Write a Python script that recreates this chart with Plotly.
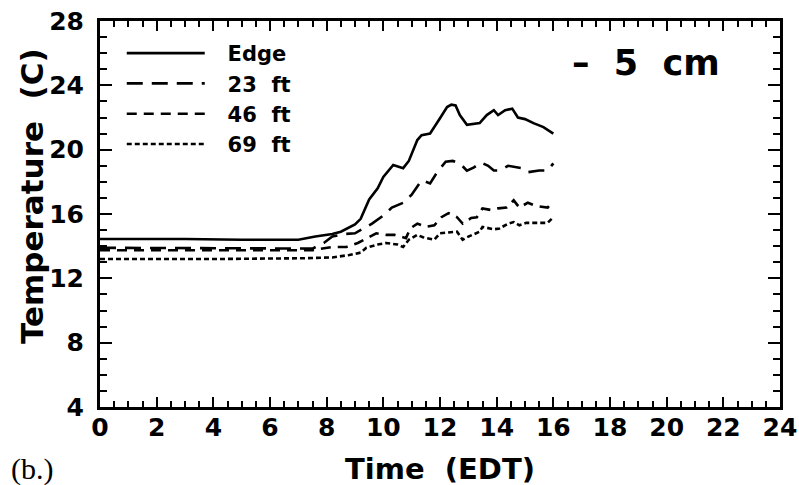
import plotly.graph_objects as go

# Edge
edge_t = [0, 3, 5, 7.0, 7.6, 8.2, 8.5, 9.0, 9.2, 9.5, 9.8, 10.0, 10.35, 10.7, 10.9, 11.2, 11.35,
          11.65, 12.0, 12.25, 12.4, 12.55, 12.7, 12.95, 13.4, 13.65, 13.9, 14.05, 14.3, 14.55,
          14.75, 15.0, 15.3, 15.65, 16.0]
edge_v = [14.45, 14.45, 14.4, 14.4, 14.6, 14.75, 14.9, 15.35, 15.7, 16.9, 17.6, 18.3, 19.05,
          18.85, 19.3, 20.6, 20.9, 21.0, 21.95, 22.65, 22.8, 22.75, 22.15, 21.55, 21.65, 22.15,
          22.45, 22.15, 22.45, 22.55, 22.0, 21.9, 21.65, 21.4, 21.0]

# 23 ft
ft23_t = [0, 4, 7.5, 7.9, 8.2, 8.6, 9.0, 9.3, 9.6, 10.0, 10.3, 10.7, 11.0, 11.35, 11.65, 11.9,
          12.2, 12.45, 12.7, 12.95, 13.2, 13.45, 13.7, 13.9, 14.1, 14.4, 14.7, 14.9, 15.1, 15.5,
          15.8, 16.0]
ft23_v = [13.9, 13.85, 13.85, 14.2, 14.6, 14.75, 14.8, 15.1, 15.4, 15.9, 16.4, 16.7, 17.2, 18.1,
          17.9, 18.6, 19.25, 19.3, 19.15, 18.7, 18.9, 19.2, 19.0, 18.7, 18.7, 19.0, 18.9, 18.85,
          18.6, 18.7, 18.7, 19.15]

# 46 ft
ft46_t = [0, 4, 7.5, 8.2, 8.7, 9.1, 9.4, 9.75, 10.1, 10.4, 10.8, 10.95, 11.2, 11.5, 11.8, 12.05,
          12.3, 12.6, 12.8, 13.1, 13.3, 13.5, 13.8, 14.05, 14.35, 14.6, 14.8, 15.1, 15.4, 15.8, 16.0]
ft46_v = [13.75, 13.75, 13.75, 13.95, 13.95, 14.2, 14.5, 14.8, 14.7, 14.7, 14.5, 15.1, 15.4, 15.2,
          15.3, 15.8, 16.05, 15.8, 15.4, 15.75, 15.8, 16.35, 16.25, 16.35, 16.4, 16.85, 16.4, 16.7,
          16.5, 16.4, 16.8]

# 69 ft
ft69_t = [0, 4, 7.2, 8.2, 8.8, 9.2, 9.4, 9.8, 10.1, 10.5, 10.7, 10.9, 11.2, 11.4, 11.8, 12.0,
          12.6, 12.8, 12.95, 13.4, 13.5, 13.9, 14.1, 14.4, 14.6, 14.8, 15.05, 15.5, 15.8, 16.0]
ft69_v = [13.2, 13.2, 13.25, 13.3, 13.45, 13.6, 13.9, 14.1, 14.2, 14.1, 13.95, 14.4, 14.7, 14.55,
          14.4, 14.8, 14.9, 14.4, 14.55, 14.9, 15.2, 15.05, 15.1, 15.4, 15.5, 15.3, 15.45, 15.45,
          15.45, 15.8]

NB = "\u00a0"
EN = "\u2002"
series = [
    ("Edge", edge_t, edge_v, "solid"),
    ("23" + NB * 2 + "ft", ft23_t, ft23_v, "16px,9px"),
    ("46" + NB * 2 + "ft", ft46_t, ft46_v, "10px,7px"),
    ("69" + NB * 2 + "ft", ft69_t, ft69_v, "5px,3px"),
]

FONT = "DejaVu Sans"

fig = go.Figure()
for name, t, v, dash in series:
    fig.add_trace(go.Scatter(
        x=t, y=v, name=EN + NB + name, mode="lines",
        line=dict(color="black", width=2.6, dash=dash),
    ))

axis_common = dict(
    showline=True, linecolor="black", linewidth=3, mirror="allticks",
    ticks="inside", tickcolor="black", tickwidth=2,
    showgrid=False, zeroline=False, automargin=False,
    tickfont=dict(family=FONT, size=25, color="black", weight="bold"),
)

fig.update_layout(
    width=799, height=485,
    margin=dict(l=100, r=19, t=21, b=78),
    paper_bgcolor="white", plot_bgcolor="white",
    showlegend=True,
    legend=dict(
        x=0.032, y=0.969, xanchor="left", yanchor="top",
        bgcolor="rgba(0,0,0,0)", borderwidth=0,
        font=dict(family=FONT, size=21, color="black", weight="bold"),
        itemwidth=78, tracegroupgap=0,
    ),
    xaxis=dict(
        range=[0, 24], tickvals=list(range(0, 25, 2)), ticklen=10,
        ticklabelstandoff=-4,
        minor=dict(dtick=0.5, ticks="inside", ticklen=6, tickcolor="black", tickwidth=2),
        **axis_common,
    ),
    yaxis=dict(
        range=[4, 28], tickvals=list(range(4, 29, 4)), ticklen=12,
        ticklabelstandoff=8,
        minor=dict(dtick=1, ticks="inside", ticklen=7, tickcolor="black", tickwidth=2),
        **axis_common,
    ),
)

fig.add_annotation(
    text="Time" + NB * 2 + "(EDT)", xref="paper", yref="paper", x=0.5, y=0,
    xanchor="center", yanchor="middle", yshift=-62, showarrow=False,
    font=dict(family=FONT, size=29, color="black", weight="bold"),
)
fig.add_annotation(
    text="Temperature" + NB * 2 + "(C)", xref="paper", yref="paper", x=0, y=0.5,
    xanchor="center", yanchor="middle", xshift=-68, yshift=18, textangle=-90,
    showarrow=False,
    font=dict(family=FONT, size=31, color="black", weight="bold"),
)
fig.add_annotation(
    text="–" + NB * 2 + "5" + NB * 2 + "cm", xref="paper", yref="paper", x=(646 - 100) / 680, y=1,
    xanchor="center", yanchor="middle", yshift=-(63 - 21), showarrow=False,
    font=dict(family=FONT, size=35, color="black", weight="bold"),
)
fig.add_annotation(
    text="(b.)", xref="paper", yref="paper", x=0, y=0,
    xanchor="center", yanchor="middle", xshift=-68, yshift=-62, showarrow=False,
    font=dict(family="Liberation Serif", size=30, color="black"),
)

# page body has a default 8px margin; drop it so the figure sits at the window origin
fig.write_html(
    "out.html",
    config={"displayModeBar": False},
    post_script="document.body.style.margin='0';",
)
